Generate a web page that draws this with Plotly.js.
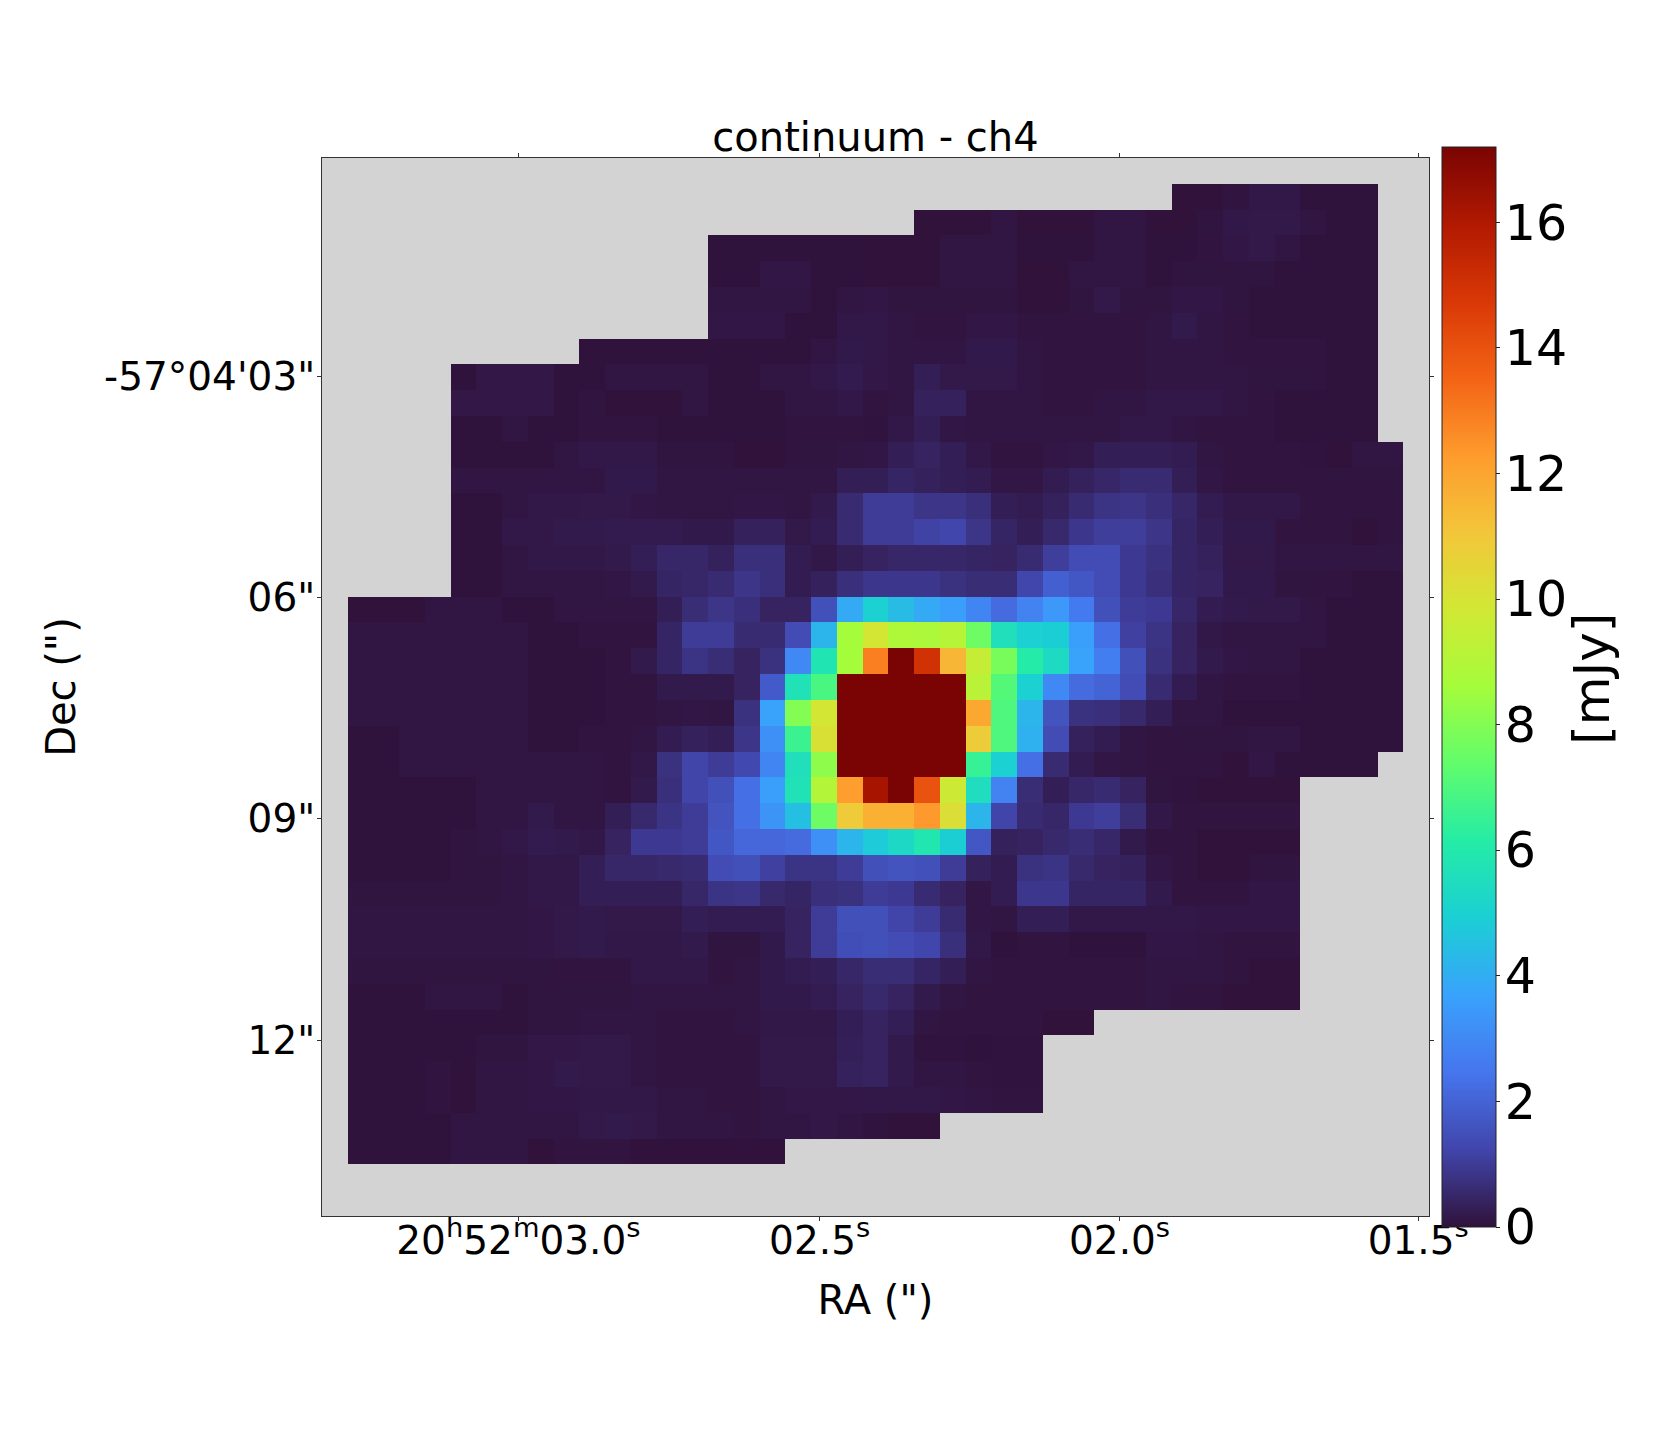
<!DOCTYPE html>
<html>
<head>
<meta charset="utf-8">
<script src="https://cdn.plot.ly/plotly-3.0.1.min.js"></script>
<style>body{margin:0;background:#fff}</style>
</head>
<body>
<div id="graph" style="width:1656px;height:1440px"></div>
<script>
// flux per spaxel in mJy. each row runs from rowStart[r]
var nCols = 43;
var nRows = 41;
var rowStart = [0,33,23,15,15,15,15,10,5,5,5,5,5,5,5,5,5,1,1,1,1,1,1,1,1,1,1,1,1,1,1,1,1,1,1,1,1,1,1,0,0];
var rowValues = [
 [],
 [0,0,.05,.15,.15,.02,.02,.02],
 [0,0,0,.08,0,0,0,.08,.08,0,0,.07,.14,.17,.17,.1,.02,.02],
 [.02,.02,.02,.02,.02,.02,0,0,0,.08,.08,.08,.02,.02,.02,.08,.08,.02,.02,.06,.12,.16,.1,.02,.02,.02],
 [.02,.02,.12,.12,.02,.02,0,0,0,.08,.08,.08,0,0,.08,.08,.08,.02,.07,.07,.07,.07,.02,.02,.02,.02],
 [.1,.1,.1,.1,.02,.1,.12,.07,.07,.07,.07,.07,0,0,.07,.16,.07,.07,.12,.12,.07,.02,.02,.02,.02,.02],
 [.12,.12,.12,.02,.02,.15,.15,.08,.05,.05,.12,.12,.05,.05,.05,.05,.05,.08,.2,.1,.06,.02,.02,.02,.02,.02],
 [.02,.02,.02,.02,.02,.02,.02,.02,.02,.1,.18,.15,.1,.1,.1,.18,.18,.1,.06,.06,.06,.06,.1,.1,.1,.06,.06,.06,.06,.02,.02],
 [.02,.13,.13,.13,.02,.02,.1,.1,.1,.1,.02,.02,.1,.1,.15,.22,.13,.1,.3,.17,.16,.16,.08,.05,.05,.05,.05,.1,.1,.1,.1,.07,.07,.07,.02,.02],
 [.13,.13,.13,.13,.02,.07,0,0,0,.1,.02,.02,.02,.08,.08,.14,.05,.1,.35,.35,.1,.1,.1,.05,.05,.1,.1,.15,.15,.15,.08,.05,.02,.02,.02,.02],
 [.02,.02,.1,.02,.02,.06,.06,.06,.02,.02,.02,.02,.02,.06,.06,.06,.03,.15,.3,.12,.09,.09,.09,.09,.09,.09,.14,.15,.1,.05,.05,.05,.02,.02,.02,.02],
 [.02,.02,.02,.02,.08,.14,.14,.14,.07,.07,.07,0,0,.07,.07,.1,.12,.3,.4,.3,.15,.05,.05,.12,.15,.3,.3,.3,.25,.1,.04,.04,.04,.03,0,.08,.08],
 [.08,.08,.08,.08,.1,.1,.18,.18,.08,.08,.08,.08,.08,.08,.1,.3,.3,.45,.35,.3,.25,.12,.12,.25,.35,.5,.6,.6,.3,.12,.05,.05,.05,.07,.07,.07,.07],
 [.02,.02,.08,.14,.14,.16,.16,.12,.08,.08,.08,.12,.12,.08,.2,.6,1,1,.85,.85,.7,.3,.25,.35,.6,.8,.85,.7,.5,.25,.15,.15,.14,.05,.05,.05,.05],
 [.02,.02,.14,.14,.2,.2,.22,.22,.22,.18,.18,.35,.35,.16,.25,.6,1,1,1.15,1.25,.85,.45,.3,.55,.9,1.05,1.05,.85,.45,.3,.18,.18,.05,.05,.05,0,.07],
 [.02,.02,.1,.15,.15,.15,.2,.3,.5,.5,.35,.7,.7,.25,.15,.3,.4,.5,.5,.5,.45,.4,.6,1.05,1.4,1.4,.95,.75,.45,.35,.17,.17,.08,.08,.08,.08,.08],
 [.02,.02,.1,.1,.1,.1,.12,.2,.45,.5,.6,.85,.7,.25,.35,.7,.9,.9,.9,.75,.65,.65,1.25,1.9,1.7,1.4,.95,.7,.45,.4,.18,.18,.07,.07,.06,.02,.02],
 [0,0,0,.1,.1,.1,.02,.02,.08,.08,.08,.08,.3,.65,.85,.7,.4,.4,1.5,3.9,5,4.4,3.9,3.6,2.9,2.2,2.8,3.4,2.6,1.5,1,.95,.5,.25,.2,.17,.17,.1,.02,.02,.02],
 [.1,.1,.1,.1,.1,.1,.1,.02,.02,.06,.06,.06,.45,1,1,.6,.6,1.4,4.2,8.6,9.9,8.9,8.8,9.1,7.6,5.6,5,4.9,3.6,2.3,1.1,.8,.4,.15,.1,.1,.1,.1,.02,.02,.02],
 [.1,.1,.1,.1,.1,.1,.1,.02,.02,.02,.05,.2,.45,.8,.65,.4,.75,3,5.8,8.6,12.9,17.2,15,11.5,9.5,7.8,6.1,5.4,3.7,2.7,1.5,.75,.4,.2,.12,.08,.08,.02,.02,.02,.02],
 [.1,.1,.1,.1,.1,.1,.1,.02,.02,.02,.05,.05,.2,.2,.2,.4,1.8,5.7,6.9,17.2,17.2,17.2,17.2,17.2,9.2,7.1,5,3,2.2,2,1.4,.6,.25,.08,.05,.05,.05,.02,.02,.02,.02],
 [.1,.1,.1,.1,.1,.1,.1,.02,.02,.02,.05,.05,.1,.12,.1,.75,3.7,8,9.9,17.2,17.2,17.2,17.2,17.2,11.9,7,4.2,1.6,.75,.7,.55,.3,.1,.08,.02,.02,.02,.02,.02,.02,.02],
 [.02,.02,.1,.1,.1,.1,.1,.02,.02,.05,.05,.1,.25,.35,.3,.85,3.2,6.6,10.1,17.2,17.2,17.2,17.2,17.2,10.8,7,4.1,1.4,.35,.25,.08,.06,.07,.07,.07,.1,.1,.02,.02,.02,.02],
 [.02,.02,.1,.1,.1,.1,.1,.08,.08,.08,.05,.15,.75,1.2,1,1.3,2.9,5.6,8.2,17.2,17.2,17.2,17.2,17.2,6.5,5,2.3,.6,.25,.12,.08,.06,.05,.05,0,.12,.02,.02,.02,.02],
 [.02,.02,.02,.02,.02,.08,.08,.08,.08,.08,.05,.2,.7,1.2,1.5,2.3,3.6,5.7,9,12.2,16.2,17.2,14,9.7,5.5,2.8,.65,.3,.5,.6,.4,.07,.03,0,0,0,0],
 [.02,.02,.02,.02,.02,.08,.1,.2,.08,.1,.3,.55,.8,1,1.6,2.3,3.3,4.5,7.6,10.9,11.7,11.7,12.3,10.2,4.2,1.2,.6,.5,.95,1.05,.65,.15,.06,.06,.06,.06,.06],
 [.02,.02,.02,.02,.07,.08,.15,.22,.2,.15,.4,.95,.95,1,1.7,2.1,2.1,2.2,3.2,4.2,4.8,5.3,5.9,4.9,1.7,.35,.4,.55,.65,.5,.2,.05,.04,0,0,0,0],
 [.02,.02,.02,.02,.07,.07,.08,.15,.15,.3,.5,.5,.55,.6,1.4,1.5,1.1,.8,.8,1,1.5,1.6,1.5,1,.35,.25,.75,.8,.55,.4,.35,.12,.04,0,0,.07,.07],
 [.07,.07,.07,.07,.07,.07,.08,.15,.15,.3,.3,.3,.3,.5,.8,.85,.55,.45,.7,.75,1,.95,.6,.4,.12,.25,.9,.9,.45,.45,.45,.2,.05,.06,.06,.12,.12],
 [.08,.08,.08,.08,.08,.08,.08,.12,.17,.2,.17,.17,.17,.3,.25,.25,.25,.4,1,1.5,1.5,1.2,1,.6,.12,.1,.3,.3,.15,.15,.15,.15,.15,.12,.12,.12,.12],
 [.08,.08,.08,.08,.08,.08,.08,.12,.17,.2,.15,.15,.15,.2,.07,.07,.18,.4,1,1.45,1.5,1.4,1.25,.7,.15,.02,.05,.05,.02,.02,.02,.12,.12,.1,.06,.06,.06],
 [.07,.07,.07,.07,.07,.07,.07,.07,.06,.06,.06,.15,.15,.15,.04,.08,.18,.25,.3,.5,.65,.65,.45,.3,.1,.04,.04,.04,.04,.04,.04,.08,.08,.08,.05,0,0],
 [.02,.02,.02,.1,.1,.1,.02,.07,.07,.07,.07,.1,.1,.1,.1,.1,.18,.18,.25,.4,.55,.4,.2,.1,.05,.05,.05,.05,.05,.05,.05,.08,.05,.05,0,0,0],
 [.02,.02,.02,.02,.02,.02,.02,.07,.07,.1,.1,.1,.05,.05,.05,.08,.15,.15,.15,.3,.4,.3,.08,.04,.04,.04,.04,0,0],
 [.02,.02,.02,.02,.02,.07,.07,.13,.13,.17,.17,.08,.05,.05,.05,.05,.17,.17,.17,.32,.4,.2,.03,.03,.02,.03,.03],
 [.02,.02,.02,.06,0,.08,.08,.12,.2,.17,.17,.08,.05,.05,.05,.05,.17,.17,.17,.35,.4,.2,.08,.08,.04,.03,.03],
 [.02,.02,.02,.06,0,.08,.08,.12,.12,.15,.15,.15,.1,.1,.05,.05,.1,.13,.13,.13,.15,.15,.15,.12,.08,.04,.04],
 [.02,.02,.02,.02,.08,.08,.08,.08,.1,.17,.2,.17,.1,.1,.1,.05,.1,.1,.13,.1,.03,0,0],
 [.02,.02,.02,.02,.08,.08,.08,0,.05,.05,.05,.01,.01,.01,.01,.01,.01],
 [],
 []
];

var raTicks = [7.13, 18.83, 30.48, 42.08];
var raLabels = ['20<sup>h</sup>52<sup>m</sup>03.0<sup>s</sup>', '02.5<sup>s</sup>', '02.0<sup>s</sup>', '01.5<sup>s</sup>'];
var decTicks = [7.98, 16.54, 25.1, 33.7];
var decLabels = ['-57°04\'03"', '06"', '09"', '12"'];
var cbarTicks = [0, 2, 4, 6, 8, 10, 12, 14, 16];
var zMax = 17.2;
var turbo = ['#30123b','#4145ab','#4675ed','#39a2fc','#1bcfd4','#24eca6','#61fc6c','#a4fc3b','#d1e834','#f3c63a','#fe9b2d','#f36315','#d93806','#b11901','#7a0403'];

var z = [];
for (var r = 0; r < nRows; r++) {
    var row = [];
    for (var c = 0; c < nCols; c++) {
        var v = rowValues[r][c - rowStart[r]];
        row.push(v === undefined ? null : v);
    }
    z.push(row);
}

var colorscale = turbo.map(function (col, i) {
    return [i / (turbo.length - 1), col];
});

var font = 'DejaVu Sans';
var trace = {
    type: 'heatmap',
    z: z,
    zmin: 0,
    zmax: zMax,
    colorscale: colorscale,
    hoverongaps: false,
    colorbar: {
        x: 1.0113, xanchor: 'left', xpad: 0,
        y: 0.5, yanchor: 'middle', ypad: 0,
        len: 1.0208, lenmode: 'fraction',
        thickness: 54, thicknessmode: 'pixels',
        outlinecolor: '#222', outlinewidth: 1,
        tickmode: 'array', tickvals: cbarTicks, ticktext: cbarTicks.map(String),
        ticks: 'outside', ticklen: 4, tickcolor: '#222',
        tickfont: {family: font, size: 49, color: '#000'}
    }
};

var axisStyle = {
    showgrid: false, zeroline: false,
    showline: true, linecolor: '#333', linewidth: 1, mirror: 'ticks',
    ticks: 'outside', ticklen: 4, tickcolor: '#333',
    tickmode: 'array',
    tickfont: {family: font, size: 39, color: '#000'}
};

var layout = {
    width: 1656, height: 1440,
    margin: {l: 322, r: 227, t: 158, b: 224},
    paper_bgcolor: '#fff',
    plot_bgcolor: '#d3d3d3',
    title: {
        text: 'continuum - ch4',
        font: {family: font, size: 40, color: '#000'},
        x: 0.5, xref: 'paper', xanchor: 'center',
        y: 1, yref: 'paper', yanchor: 'bottom', pad: {b: 7}
    },
    xaxis: Object.assign({}, axisStyle, {
        range: [-0.5, 42.5], tickvals: raTicks, ticktext: raLabels,
        ticklabelstandoff: -14,
        title: {text: 'RA (")', font: {family: font, size: 40, color: '#000'}, standoff: 24}
    }),
    yaxis: Object.assign({}, axisStyle, {
        range: [40.5, -0.5], tickvals: decTicks, ticktext: decLabels,
        ticklabelstandoff: -6,
        title: {text: 'Dec (")', font: {family: font, size: 40, color: '#000'}, standoff: 16}
    }),
    annotations: [{
        text: '[mJy]', textangle: -90, showarrow: false,
        xref: 'paper', yref: 'paper', x: 1.147, y: 0.5076,
        xanchor: 'center', yanchor: 'middle',
        font: {family: font, size: 50, color: '#000'}
    }]
};

Plotly.newPlot('graph', [trace], layout, {displayModeBar: false}).then(function () {
    // colorbar has no label standoff, nudge its tick labels toward the bar
    var labels = document.querySelectorAll('.cbaxis text');
    for (var i = 0; i < labels.length; i++) {
        labels[i].setAttribute('transform', 'translate(-5,0) ' + (labels[i].getAttribute('transform') || ''));
    }
});
</script>
</body>
</html>
